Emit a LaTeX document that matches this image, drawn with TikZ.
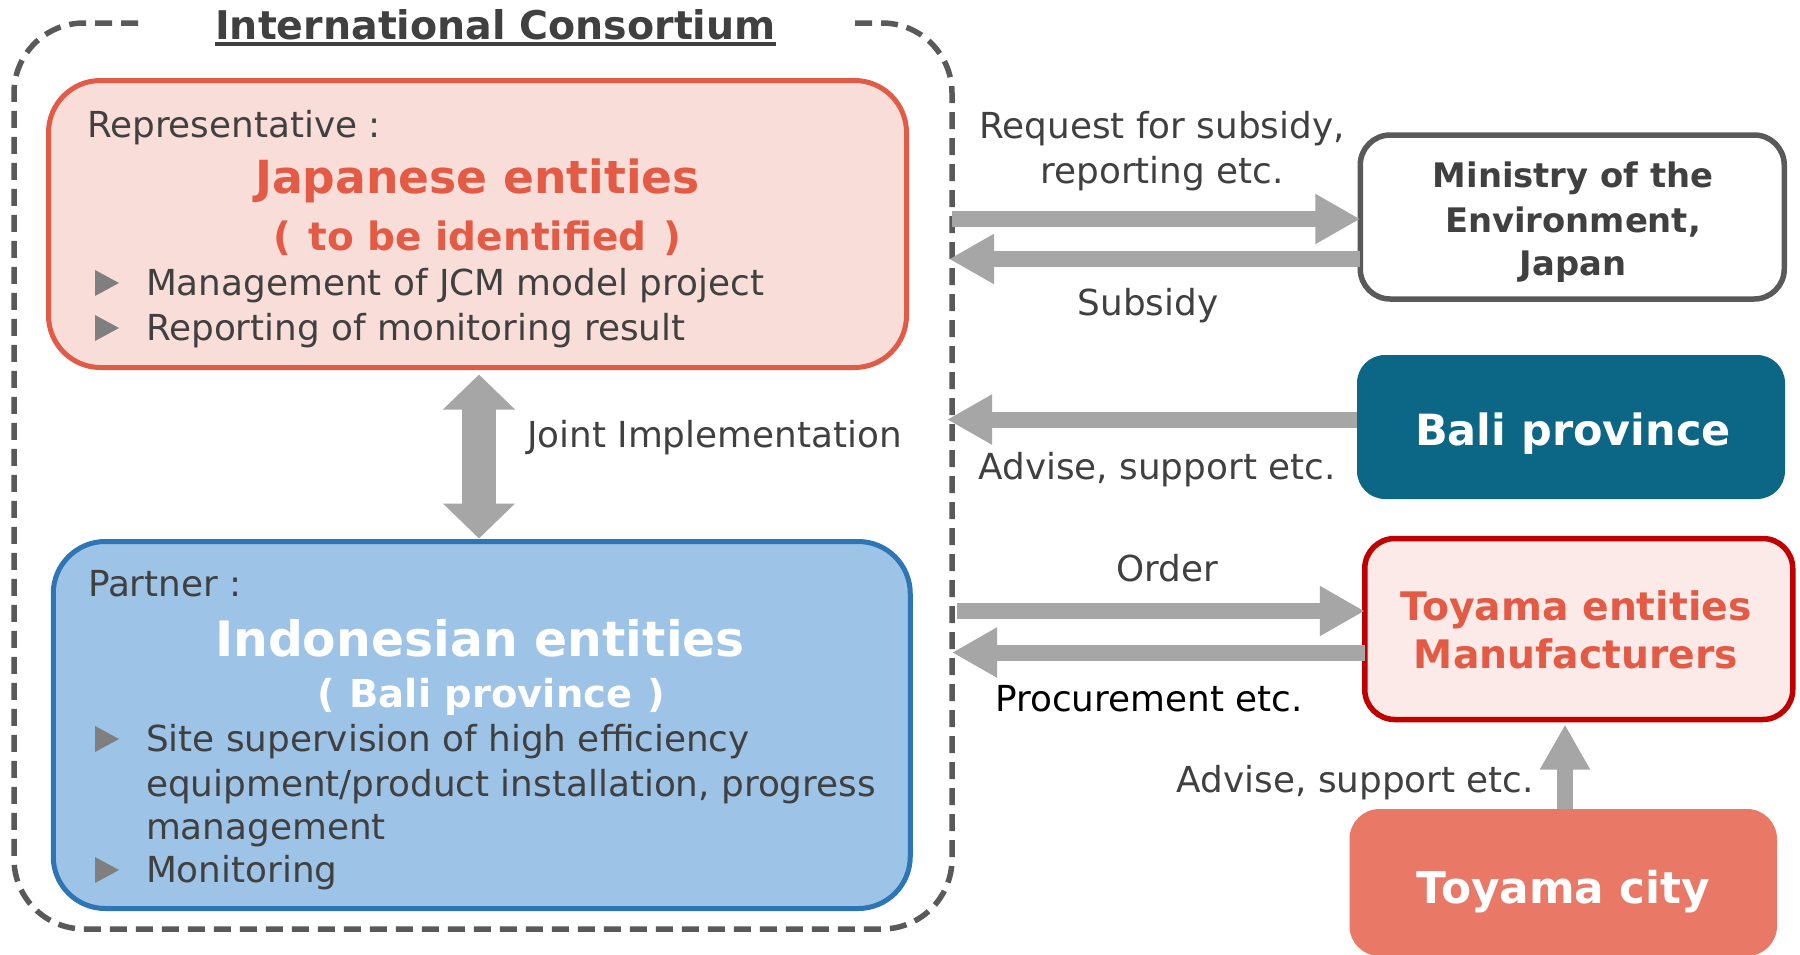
\documentclass[tikz,border=0pt]{standalone}
\usepackage{fontspec}
\setmainfont{DejaVu Sans}
\usetikzlibrary{arrows.meta,calc}
\definecolor{gtext}{HTML}{404040}
\definecolor{arrowgray}{HTML}{A6A6A6}
\definecolor{dgray}{HTML}{595959}
\definecolor{redtxt}{HTML}{E35A45}
\definecolor{redborder}{HTML}{E25B47}
\definecolor{redfill}{HTML}{F9DDD8}
\definecolor{bluefill}{HTML}{9DC3E6}
\definecolor{blueborder}{HTML}{2E75B6}
\definecolor{balifill}{HTML}{0B6785}
\definecolor{tefill}{HTML}{FBEAE7}
\definecolor{teborder}{HTML}{C00000}
\definecolor{tcfill}{HTML}{E97866}
\definecolor{bulletgray}{HTML}{7F7F7F}
\newcommand{\fs}[1]{\fontsize{#1}{#1}\selectfont}
\tikzset{
  box/.style={rectangle, rounded corners=#1, inner sep=0pt, outer sep=0pt},
  txt/.style={inner sep=0pt, outer sep=0pt, text=gtext, font=\fs{35.8}},
  blk/.style={draw=arrowgray, line width=16pt, -{Triangle[length=45pt,width=47pt]}},
  dblk/.style={draw=arrowgray, line width=34pt, {Triangle[length=35pt,width=70pt]}-{Triangle[length=35pt,width=70pt]}},
}
\begin{document}
\begin{tikzpicture}[x=1pt,y=-1pt]
\useasboundingbox (0,0) rectangle (1800,954);
\fill[white] (0,0) rectangle (1800,954);

% consortium frame
\node[box=0pt, minimum width=938pt, minimum height=906pt] (cons) at (483,476) {};
\draw[dgray, line width=5.5pt, dash pattern=on 17pt off 9pt, rounded corners=70pt]
  (855,23) -- (cons.north east) -- (cons.south east) -- (cons.south west) -- (cons.north west) -- (138,23);
\node[txt, anchor=base, font=\bfseries\fs{39.5}] (title) at (495.5,39) {International Consortium};
\draw[gtext, line width=3.5pt] ($(title.base west)+(0,5)$) -- ($(title.base east)+(0,5)$);

% Japanese entities box
\node[box=52pt, draw=redborder, line width=5pt, fill=redfill, minimum width=858pt, minimum height=287pt] (jp) at (477.5,224) {};
\node[txt, anchor=base west] (rep) at (87,137) {Representative :};
\node[txt, anchor=base, text=redtxt, font=\bfseries\fs{45.6}] (jpn) at (477.5,193) {Japanese entities};
\node[txt, anchor=base, text=redtxt, font=\bfseries\fs{39}] (tbi) at (477.5,250) {(\hspace{17pt}to be identified\hspace{17pt})};
\node[txt, anchor=base west] (m1) at (146,295) {Management of JCM model project};
\node[txt, anchor=base west] (m2) at (146,340) {Reporting of monitoring result};

% Indonesian entities box
\node[box=52pt, draw=blueborder, line width=5pt, fill=bluefill, minimum width=857pt, minimum height=367pt] (id) at (481.75,725) {};
\node[txt, anchor=base west] (partner) at (88,596) {Partner :};
\node[txt, anchor=base, text=white, font=\bfseries\fs{48.8}] (ind) at (480,656) {Indonesian entities};
\node[txt, anchor=base, text=white, font=\bfseries\fs{38.5}] (bpr) at (491,707) {(\hspace{15pt}Bali province\hspace{15pt})};
\node[txt, anchor=base west] (s1) at (146,751) {Site supervision of high efficiency};
\node[txt, anchor=base west] (s2) at (146,796) {equipment/product installation, progress};
\node[txt, anchor=base west] (s3) at (146,839) {management};
\node[txt, anchor=base west] (s4) at (146,882) {Monitoring};

\foreach \b in {295,340,751,882}
  \fill[bulletgray] (95,\b-25) -- (119,\b-12) -- (95,\b+1) -- cycle;

% joint implementation
\draw[dblk] ($(jp.south)+(1.5,7)$) -- ($(id.north)+(-2.75,-3)$);
\node[txt, anchor=base west] (ji) at (527,447) {Joint Implementation};

% right side boxes
\node[box=30pt, draw=dgray, line width=5.5pt, fill=white, minimum width=424pt, minimum height=164pt] (min) at (1572.25,217) {};
\node[txt, anchor=base, font=\bfseries\fs{33.8}] (min1) at (1573,187) {Ministry of the};
\node[txt, anchor=base, font=\bfseries\fs{33.8}] (min2) at (1573,232) {Environment,};
\node[txt, anchor=base, font=\bfseries\fs{33.8}] (min3) at (1573,275) {Japan};

\node[box=28pt, fill=balifill, minimum width=428pt, minimum height=144pt] (bali) at (1571,427) {};
\node[txt, anchor=base, text=white, font=\bfseries\fs{43}] (balit) at (1573,445) {Bali province};

\node[box=30pt, draw=teborder, line width=5.5pt, fill=tefill, minimum width=428pt, minimum height=181pt] (te) at (1578.75,629) {};
\node[txt, anchor=base, text=redtxt, font=\bfseries\fs{39.3}] (te1) at (1576,620) {Toyama entities};
\node[txt, anchor=base, text=redtxt, font=\bfseries\fs{39.3}] (te2) at (1576,668) {Manufacturers};

\node[box=30pt, fill=tcfill, minimum width=427.5pt, minimum height=147pt] (tc) at (1563.25,882.5) {};
\node[txt, anchor=base, text=white, font=\bfseries\fs{43.8}] (tct) at (1563.5,903) {Toyama city};

% arrows
\coordinate (pa) at ($(min.west)+(0,2)$);
\coordinate (pb) at ($(min.west)+(0,42)$);
\coordinate (pc) at ($(bali.west)+(0,-7.5)$);
\coordinate (pd) at ($(te.west)+(0,-18)$);
\coordinate (pe) at ($(te.west)+(0,23.5)$);
\draw[blk] ($(pa -| cons.east)+(0,0)$) -- (pa);
\draw[blk] (pb) -- ($(pb -| cons.east)+(-3,0)$);
\draw[blk] (pc) -- ($(pc -| cons.east)+(-5,0)$);
\draw[blk] ($(pd -| cons.east)+(5,0)$) -- (pd);
\draw[blk] (pe) -- ($(pe -| cons.east)$);
\coordinate (pu) at ($(tc.north)+(1.75,0)$);
\draw[blk] (pu) -- ($(pu |- te.south)+(0,5)$);

% arrow labels
\node[txt, anchor=base] (req1) at (1162,138) {Request for subsidy,};
\node[txt, anchor=base] (req2) at (1162,183) {reporting etc.};
\node[txt, anchor=base] (sub) at (1148,315) {Subsidy};
\node[txt, anchor=base] (adv1) at (1157,479) {Advise, support etc.};
\node[txt, anchor=base] (order) at (1167.5,581) {Order};
\node[txt, anchor=base, text=black] (proc) at (1149,711) {Procurement etc.};
\node[txt, anchor=base east] (adv2) at (1534,792) {Advise, support etc.};
\end{tikzpicture}
\end{document}
